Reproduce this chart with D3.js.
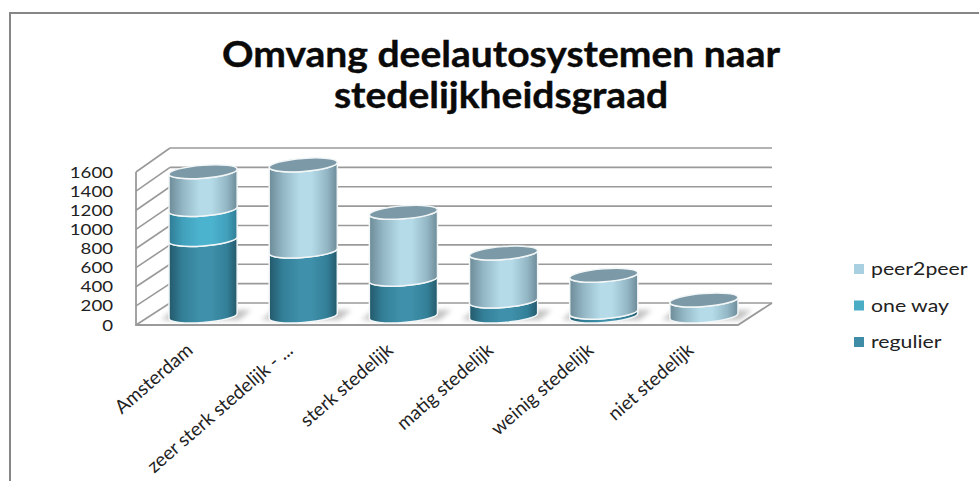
<!DOCTYPE html>
<html>
<head>
<meta charset="utf-8">
<script src="https://d3js.org/d3.v7.min.js"></script>
<style>
  html, body { margin: 0; padding: 0; background: #fff; }
  svg { display: block; }
  text { font-family: Lato, sans-serif; fill: #222; }
</style>
</head>
<body>
<svg width="979" height="481"></svg>
<script>
// values
var categories = ["Amsterdam", "zeer sterk stedelijk - ...", "sterk stedelijk", "matig stedelijk", "weinig stedelijk", "niet stedelijk"];
var regulier = [790, 670, 380, 155, 40, 0];
var oneWay = [310, 0, 0, 0, 0, 0];
var peer2peer = [390, 890, 690, 495, 380, 165];
var seriesNames = ["regulier", "one way", "peer2peer"];
var yTicks = [0, 200, 400, 600, 800, 1000, 1200, 1400, 1600];
var titleLines = ["Omvang deelautosystemen naar", "stedelijkheidsgraad"];

// colours per series: edge, shoulder, middle, legend swatch
var colors = {
  "regulier": {edge: "#24596b", side: "#337f98", mid: "#3f90aa", key: "#3f8ca6"},
  "one way": {edge: "#2f7c94", side: "#41a0bb", mid: "#4cb3cf", key: "#4bacc6"},
  "peer2peer": {edge: "#6d8b98", side: "#93b6c4", mid: "#b5dbe9", key: "#a9d0e0"}
};

var svg = d3.select("svg");
var defs = svg.append("defs");

// walls sit behind the front plane by this offset
var depth = {x: 34};

var yFront = d3.scaleLinear().domain([0, 1600]).range([325, 172]);
var yBack = d3.scaleLinear().domain([0, 1600]).range([303, 148]);
var yBar = d3.scaleLinear().domain([0, 1600]).range([316, 161]);

var x = d3.scaleBand().domain(categories).range([153, 754]).paddingInner(0.32).paddingOuter(0.16);

// frame around the chart
svg.append("path")
   .attr("d", "M10,481V13H979")
   .style("fill", "none")
   .style("stroke", "#868686")
   .style("stroke-width", 2);

// title
svg.append("g")
   .selectAll("text")
   .data(titleLines)
   .enter()
   .append("text")
   .attr("transform", function(d, i) { return "translate(501," + (67 + i * 41) + ") scale(1.055,1)"; })
   .attr("text-anchor", "middle")
   .style("font-size", "37px")
   .style("font-weight", 700)
   .style("fill", "#0a0a0a")
   .style("stroke", "#0a0a0a")
   .style("stroke-width", 0.4)
   .text(function(d) { return d; });

// gridlines on the back wall and along the side wall
var wall = svg.append("g").attr("id", "walls");
var leftFront = 136, leftBack = leftFront + depth.x, rightBack = 772, rightFront = 738;

wall.selectAll("line.back")
    .data(yTicks)
    .enter()
    .append("line")
    .attr("x1", leftBack)
    .attr("x2", rightBack)
    .attr("y1", function(d) { return yBack(d); })
    .attr("y2", function(d) { return yBack(d); })
    .style("stroke", "#9a9a9a")
    .style("stroke-width", 1.6);

wall.selectAll("line.side")
    .data(yTicks)
    .enter()
    .append("line")
    .attr("x1", leftFront)
    .attr("x2", leftBack)
    .attr("y1", function(d) { return yFront(d); })
    .attr("y2", function(d) { return yBack(d); })
    .style("stroke", "#9a9a9a")
    .style("stroke-width", 1.6);

wall.append("path")
    .attr("d", "M" + leftFront + "," + yFront(1600) + "V" + yFront(0) + "H" + rightFront + "L" + rightBack + "," + yBack(0))
    .style("fill", "none")
    .style("stroke", "#9a9a9a")
    .style("stroke-width", 1.8);

// soft shadows on the floor
defs.append("filter")
    .attr("id", "blur")
    .attr("x", "-30%").attr("width", "160%")
    .attr("y", "-60%").attr("height", "220%")
    .append("feGaussianBlur")
    .attr("stdDeviation", 2.6);

svg.append("g")
   .selectAll("path")
   .data(categories)
   .enter()
   .append("path")
   .attr("d", function(d) {
     var l = x(d) - 8, r = x(d) + x.bandwidth() + 14;
     return "M" + l + ",320L" + (l + 12) + ",310H" + r + "L" + (r - 12) + ",320Z";
   })
   .style("fill", "#9c9c9c")
   .style("opacity", 0.6)
   .attr("filter", "url(#blur)");

// horizontal gradient per series so the stacks look round
seriesNames.forEach(function(name, i) {
  var c = colors[name];
  var grad = defs.append("linearGradient")
                 .attr("id", "grad" + i)
                 .attr("x1", 0).attr("x2", 1)
                 .attr("y1", 0).attr("y2", 0);
  [[0, c.edge], [0.2, c.side], [0.45, c.mid], [0.62, c.mid], [0.85, c.side], [1, c.edge]]
    .forEach(function(s) {
      grad.append("stop").attr("offset", s[0]).attr("stop-color", s[1]);
    });
});

// stack the three series
var rows = categories.map(function(c, i) {
  return {category: c, "regulier": regulier[i], "one way": oneWay[i], "peer2peer": peer2peer[i]};
});
var stacked = d3.stack().keys(seriesNames)(rows);

var rx = x.bandwidth() / 2, ry = 6.5;
var shear = -0.075;

var bars = svg.append("g")
              .attr("id", "bars")
              .selectAll("g")
              .data(rows)
              .enter()
              .append("g")
              .attr("transform", function(d) {
                var cx = x(d.category) + rx;
                // shear around the bar centre so the lid tilts but stays on its axis
                return "translate(" + cx + ",0) matrix(1," + shear + ",0,1,0,0)";
              });

// one cylinder segment, local coordinates with x=0 at the centre
function segment(y0, y1) {
  return "M" + (-rx) + "," + y1 +
         "A" + rx + "," + ry + " 0 0 0 " + rx + "," + y1 +
         "V" + y0 +
         "A" + rx + "," + ry + " 0 0 1 " + (-rx) + "," + y0 + "Z";
}

bars.each(function(row, r) {
  var g = d3.select(this);
  stacked.forEach(function(layer, i) {
    var v = layer[r];
    if (v[1] - v[0] <= 0) return;
    g.append("path")
     .attr("d", segment(yBar(v[0]), yBar(v[1])))
     .style("fill", "url(#grad" + i + ")")
     .style("stroke", "#f2f6f7")
     .style("stroke-width", 1.5);
  });
  // lid on top of the stack
  var total = stacked[2][r][1];
  g.append("ellipse")
   .attr("cx", 0)
   .attr("cy", yBar(total))
   .attr("rx", rx)
   .attr("ry", ry)
   .style("fill", "#7b99a6")
   .style("stroke", "#f2f6f7")
   .style("stroke-width", 1.5);
});

// y axis labels
svg.append("g")
   .selectAll("text")
   .data(yTicks)
   .enter()
   .append("text")
   .attr("transform", function(d) { return "translate(113," + (yFront(d) + 5.5) + ") scale(1.18,1)"; })
   .attr("text-anchor", "end")
   .style("font-size", "15.8px")
   .text(function(d) { return d; });

// category labels, rotated
svg.append("g")
   .selectAll("text")
   .data(categories)
   .enter()
   .append("text")
   .attr("transform", function(d) {
     return "translate(" + (x(d) + rx - 9) + ",352) rotate(-41)";
   })
   .attr("text-anchor", "end")
   .style("font-size", "19px")
   .text(function(d) { return d; });

// legend, top entry is the top of the stack
var legendY = d3.scalePoint().domain(seriesNames.slice().reverse()).range([269, 342]);
var legend = svg.append("g")
                .selectAll("g")
                .data(seriesNames)
                .enter()
                .append("g")
                .attr("transform", function(d) { return "translate(854," + legendY(d) + ")"; });

legend.append("rect")
      .attr("y", -5)
      .attr("width", 10)
      .attr("height", 10)
      .style("fill", function(d) { return colors[d].key; });

legend.append("text")
      .attr("transform", "translate(17,6) scale(1.25,1)")
      .style("font-size", "17px")
      .text(function(d) { return d; });
</script>
</body>
</html>
